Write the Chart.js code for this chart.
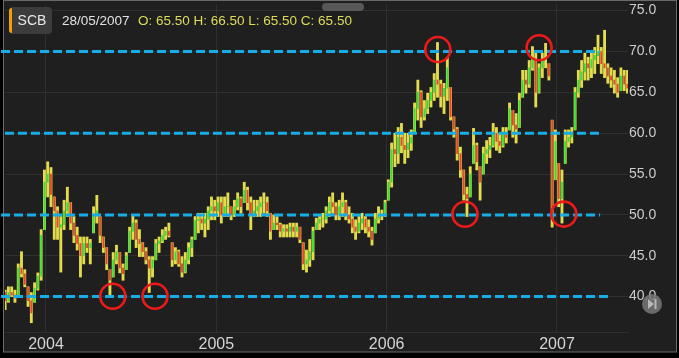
<!DOCTYPE html>
<html>
<head>
<meta charset="utf-8">
<script src="https://cdn.jsdelivr.net/npm/chart.js@4.4.0/dist/chart.umd.min.js"></script>
<style>
  html, body { margin: 0; padding: 0; background: #000; }
</style>
</head>
<body>
<canvas id="PriceChart" width="679" height="358"></canvas>
<script>
// weekly bars, first week ~ late Sept 2003 (decimal year)
var firstWeek = 2003.76;

var highs = [
  40.8, 41.2, 41.2, 40.8, 44.0, 45.5, 43.3, 41.2, 40.5, 41.7,
  42.9, 48.2, 55.5, 56.5, 55.8, 52.2, 51.0, 49.8, 51.8, 53.4,
  51.5, 49.8, 48.5, 47.3, 47.3, 47.3, 47.0, 51.0, 52.4, 49.8,
  47.3, 46.0, 43.3, 45.4, 46.3, 45.4, 44.0, 45.4, 48.5, 50.0,
  49.4, 48.2, 46.6, 46.0, 44.9, 44.9, 47.0, 47.3, 48.2, 48.5,
  49.0, 46.6, 46.0, 45.7, 44.9, 45.4, 46.6, 47.3, 49.8, 50.2,
  50.2, 50.2, 51.0, 52.2, 51.8, 52.2, 52.2, 52.2, 52.7, 51.0,
  51.8, 52.7, 52.2, 54.0, 53.4, 52.2, 51.8, 51.8, 52.2, 52.7,
  52.2, 50.2, 50.0, 49.8, 49.0, 48.8, 48.8, 49.0, 49.0, 49.0,
  48.5, 46.6, 45.7, 47.0, 48.5, 49.6, 49.8, 50.2, 51.0, 52.2,
  52.7, 51.5, 51.8, 52.7, 51.8, 51.0, 50.2, 49.4, 49.8, 50.2,
  49.8, 49.4, 48.5, 50.2, 51.0, 50.6, 51.8, 54.3, 58.8, 60.0,
  60.7, 61.2, 60.0, 60.0, 60.4, 63.7, 66.5, 65.2, 64.0, 64.9,
  65.6, 67.3, 71.1, 66.5, 66.1, 69.3, 65.6, 62.0, 60.7, 58.3,
  55.5, 53.4, 55.9, 60.6, 58.8, 55.9, 58.3, 59.1, 59.5, 61.2,
  60.7, 60.0, 60.7, 60.7, 63.7, 62.8, 62.4, 64.9, 67.7, 67.7,
  68.9, 70.6, 69.8, 68.5, 69.8, 71.0, 68.5, 61.6, 60.4, 56.3,
  55.5, 60.4, 60.4, 60.7, 65.6, 67.7, 68.9, 69.8, 69.3, 69.8,
  70.5, 72.0, 70.5, 72.6, 68.5, 68.0, 67.7, 66.8, 68.0, 67.7,
  67.7
];

var lows = [
  38.4, 39.3, 40.0, 39.3, 40.0, 42.4, 41.2, 38.8, 36.8, 39.3,
  40.8, 42.0, 48.2, 52.2, 51.0, 47.0, 47.0, 43.0, 48.2, 49.8,
  48.2, 46.6, 45.7, 42.4, 44.0, 45.4, 44.0, 47.8, 49.0, 46.6,
  45.4, 43.3, 40.2, 42.4, 44.0, 42.9, 42.0, 43.3, 45.4, 47.0,
  46.0, 44.9, 44.9, 44.0, 40.5, 42.4, 44.5, 45.4, 46.6, 47.0,
  47.3, 43.7, 44.0, 43.7, 42.4, 42.9, 44.0, 44.9, 47.0, 47.8,
  48.2, 47.3, 48.2, 49.4, 49.4, 49.8, 49.0, 49.8, 49.8, 49.4,
  49.8, 50.6, 50.2, 51.5, 50.6, 48.2, 49.8, 49.8, 49.8, 50.2,
  49.8, 47.0, 48.2, 48.2, 47.3, 47.3, 47.3, 47.3, 47.3, 47.3,
  46.6, 43.3, 43.0, 43.7, 44.5, 48.2, 48.2, 48.5, 49.0, 49.8,
  50.2, 49.4, 49.4, 49.8, 49.4, 49.0, 47.8, 47.0, 47.8, 48.2,
  47.8, 47.3, 46.3, 47.8, 49.0, 49.4, 49.8, 51.8, 53.4, 55.9,
  56.3, 57.6, 56.3, 57.0, 57.9, 60.0, 61.6, 60.7, 61.6, 62.4,
  63.2, 64.0, 64.4, 63.2, 62.4, 64.0, 61.6, 59.5, 56.7, 54.6,
  51.8, 49.8, 52.2, 56.3, 55.5, 51.8, 55.0, 56.3, 57.0, 58.3,
  57.9, 57.6, 58.3, 58.8, 60.4, 59.5, 58.8, 60.7, 64.4, 64.9,
  65.6, 67.7, 63.2, 64.9, 66.8, 68.0, 66.5, 48.5, 54.3, 51.0,
  49.0, 56.3, 58.3, 58.8, 60.4, 64.4, 65.6, 66.5, 66.5, 66.8,
  67.3, 68.5, 67.3, 66.8, 66.1, 65.6, 64.9, 64.4, 65.2, 65.2,
  64.9
];

var closes = [
  39.5, 40.5, 40.2, 39.8, 43.5, 42.8, 41.5, 39.5, 38.0, 41.0,
  42.5, 47.5, 54.0, 55.0, 52.5, 50.5, 48.5, 48.8, 50.5, 51.5,
  49.0, 47.5, 46.5, 45.0, 46.5, 46.0, 46.5, 50.0, 50.5, 47.5,
  46.0, 44.0, 42.0, 44.5, 45.5, 43.5, 42.8, 45.0, 48.0, 49.0,
  47.0, 46.5, 45.5, 44.5, 43.5, 44.5, 46.5, 46.8, 47.5, 48.0,
  47.5, 44.5, 45.5, 44.0, 43.0, 44.5, 46.0, 47.0, 49.3, 49.5,
  49.0, 49.5, 50.5, 51.0, 50.5, 51.5, 50.0, 51.0, 51.0, 50.0,
  51.0, 52.0, 51.0, 53.0, 51.5, 50.0, 50.5, 51.0, 51.5, 51.5,
  50.5, 48.0, 49.0, 48.8, 48.0, 48.3, 48.0, 48.5, 48.0, 48.5,
  47.0, 44.0, 44.5, 45.5, 48.0, 49.0, 49.5, 49.5, 50.5, 51.5,
  51.0, 50.0, 51.0, 51.5, 50.0, 49.5, 48.5, 48.0, 49.0, 49.5,
  48.5, 48.0, 47.0, 49.5, 50.0, 50.0, 51.5, 54.0, 58.0, 57.5,
  59.5, 58.5, 58.0, 58.8, 59.5, 63.0, 65.0, 62.0, 63.0, 64.0,
  65.0, 66.5, 66.0, 64.5, 65.5, 68.0, 62.0, 60.5, 57.5, 55.5,
  52.5, 52.0, 55.0, 58.5, 56.5, 54.0, 57.5, 58.0, 58.5, 60.0,
  59.0, 58.5, 60.0, 59.5, 63.0, 61.0, 60.5, 64.0, 66.5, 66.0,
  68.0, 69.0, 65.0, 68.0, 69.0, 69.0, 67.0, 50.0, 59.0, 52.0,
  54.0, 59.0, 59.5, 60.0, 65.0, 66.5, 67.5, 68.5, 68.0, 69.0,
  69.5, 70.0, 68.5, 68.0, 67.0, 66.5, 66.0, 65.0, 67.0, 66.0,
  65.5
];
var firstOpen = 40.5;

// tick labels
var yearTicks = [2004, 2005, 2006, 2007];
var priceTicks = [40, 45, 50, 55, 60, 65, 70, 75];

// support/resistance levels (dashed) and where they start/end
var levels = [70, 60, 50, 40];
var levelStart = [2003.736, 2003.759, 2003.736, 2003.736];
var levelEnd = [2007.253, 2007.265, 2007.253, 2007.312];

// red circles marking touches
var markX = [2006.300, 2006.895, 2006.460, 2007.040, 2004.392, 2004.640];
var markY = [70.24, 70.45, 50.08, 50.10, 40.04, 40.04];

// header text
var symbol = 'SCB';
var lastDate = '28/05/2007';
var lastQuote = 'O: 65.50 H: 66.50 L: 65.50 C: 65.50';

// build chart data
var wickData = [], bodyData = [], bodyColors = [];
for (var i = 0; i < highs.length; i++) {
  var x = firstWeek + i / 52;
  // open = previous close, kept inside this week's range (gaps)
  var open = i === 0 ? firstOpen : closes[i - 1];
  open = Math.min(highs[i], Math.max(lows[i], open));
  wickData.push({ x: x, y: [lows[i], highs[i]] });
  bodyData.push({ x: x, y: [open, closes[i]] });
  bodyColors.push(closes[i] >= open ? '#36e03a' : '#e8452c');
}

var datasets = [];
datasets.push({
  type: 'scatter',
  data: markX.map(function (v, k) { return { x: v, y: markY[k] }; }),
  pointRadius: 12.5,
  pointBorderWidth: 2.6,
  pointBorderColor: '#ee1a1a',
  pointBackgroundColor: 'rgba(0,0,0,0)',
  clip: false,
  order: 0
});
for (var k = 0; k < levels.length; k++) {
  datasets.push({
    type: 'line',
    data: [{ x: levelStart[k], y: levels[k] }, { x: levelEnd[k], y: levels[k] }],
    borderColor: '#18ade6',
    borderWidth: 3,
    borderDash: [9, 4],
    pointRadius: 0,
    clip: false,
    order: 1
  });
}
datasets.push({
  type: 'bar',
  data: bodyData,
  backgroundColor: bodyColors,
  barThickness: 1.2,
  grouped: false,
  order: 2
});
datasets.push({
  type: 'bar',
  data: wickData,
  backgroundColor: '#e2dc4e',
  barThickness: 2.2,
  grouped: false,
  order: 3
});

// 배경, 헤더, 버튼 같은 장식
var decor = {
  id: 'decor',
  beforeDraw: function (chart) {
    var c = chart.ctx;
    c.save();
    c.fillStyle = '#000';
    c.fillRect(0, 0, chart.width, chart.height);
    c.fillStyle = '#1f1f1f';
    c.fillRect(4, 1, 673, 351);
    c.strokeStyle = '#6a6a6a';
    c.lineWidth = 1;
    c.strokeRect(3.5, 0.5, 673, 351.5);
    c.restore();
  },
  afterDraw: function (chart) {
    var c = chart.ctx;
    c.save();
    // scroll pill
    c.fillStyle = '#585858';
    c.beginPath();
    c.roundRect(322, 3, 42, 8, 4);
    c.fill();
    // symbol box
    c.fillStyle = '#3c3c3c';
    c.beginPath();
    c.roundRect(9, 7, 43, 27, 4);
    c.fill();
    c.fillStyle = '#f2a000';
    c.beginPath();
    c.roundRect(9, 8, 3, 25, [3, 0, 0, 3]);
    c.fill();
    c.textBaseline = 'middle';
    c.font = '14px "Liberation Sans", Arial, sans-serif';
    c.fillStyle = '#e8e8e8';
    c.textAlign = 'center';
    c.fillText(symbol, 32, 21);
    c.textAlign = 'left';
    c.font = '13.5px "Liberation Sans", Arial, sans-serif';
    c.fillStyle = '#e2e2e2';
    c.fillText(lastDate, 62, 21);
    c.fillStyle = '#dcdc5a';
    c.fillText(lastQuote, 138, 21);
    // play button
    c.fillStyle = 'rgba(120,120,120,0.85)';
    c.beginPath();
    c.arc(652, 304, 10, 0, Math.PI * 2);
    c.fill();
    c.fillStyle = '#b8b8b8';
    c.beginPath();
    c.moveTo(648, 299);
    c.lineTo(648, 309);
    c.lineTo(654, 304);
    c.closePath();
    c.fill();
    c.fillRect(654.5, 299, 2, 10);
    c.restore();
  }
};

var ctx = document.getElementById('PriceChart');
var PriceChart = new Chart(ctx, {
  type: 'bar',
  data: { datasets: datasets },
  options: {
    responsive: false,
    animation: false,
    events: [],
    layout: { autoPadding: false, padding: { left: 5, top: 5, right: 0, bottom: 0 } },
    plugins: { legend: { display: false }, tooltip: { enabled: false } },
    scales: {
      x: {
        type: 'linear',
        min: 2003.7593,
        max: 2007.4169,
        offset: false,
        grid: { color: '#2f2f2f', offset: false, drawTicks: false },
        border: { color: '#2f2f2f' },
        afterBuildTicks: function (scale) {
          scale.ticks = yearTicks.map(function (v) { return { value: v }; });
        },
        afterFit: function (scale) {
          scale.height = 26;
          scale.paddingLeft = 0;
          scale.paddingRight = 0;
        },
        ticks: {
          autoSkip: false,
          maxRotation: 0,
          padding: 3,
          color: '#d4d4d4',
          font: { family: '"Liberation Sans", Arial, sans-serif', size: 16 },
          callback: function (v) { return String(v); }
        }
      },
      y: {
        position: 'right',
        min: 35.67,
        max: 75.69,
        grid: { color: '#2f2f2f', drawTicks: false },
        border: { display: false },
        afterBuildTicks: function (scale) {
          scale.ticks = priceTicks.map(function (v) { return { value: v }; });
        },
        afterFit: function (scale) {
          scale.width = 51;
          scale.paddingTop = 0;
          scale.paddingBottom = 0;
        },
        ticks: {
          padding: 1,
          color: '#cccccc',
          font: { family: '"Liberation Sans", Arial, sans-serif', size: 14 },
          callback: function (v) { return Number(v).toFixed(1); }
        }
      }
    }
  },
  plugins: [decor]
});
</script>
</body>
</html>
